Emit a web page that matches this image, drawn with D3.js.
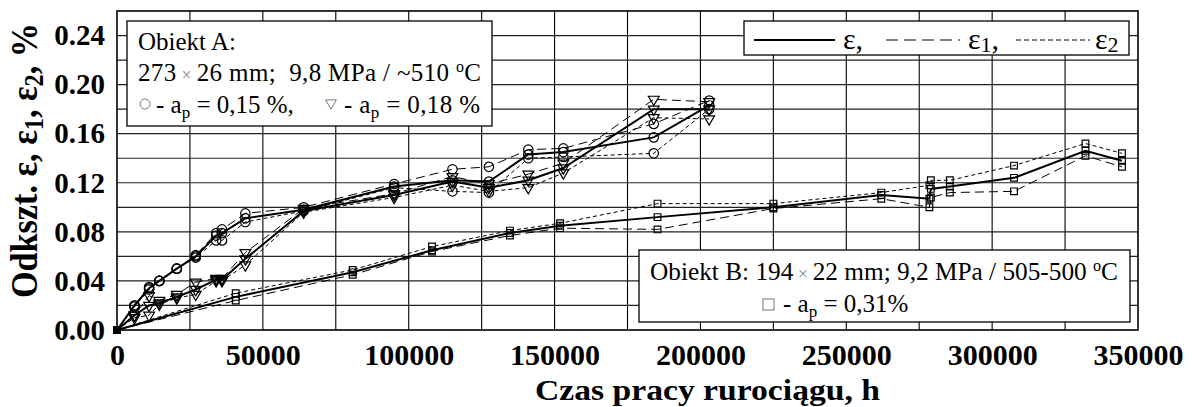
<!DOCTYPE html>
<html>
<head>
<meta charset="utf-8">
<script src="https://cdn.jsdelivr.net/npm/d3@7"></script>
<style>
  body { margin: 0; background: #fff; }
</style>
</head>
<body>
<div id="chart"></div>
<script>
// Object A: hours and strain readings (circles: a_p = 0.15 %, triangles: a_p = 0.18 %)
const hoursA = [0, 6000, 11000, 14500, 20500, 27000, 34000, 36000, 44000, 64000, 95000, 115000, 127500, 141000, 153000, 184000, 203000];
const circEps  = [0, 0.020, 0.034, 0.040, 0.050, 0.060, 0.077, 0.079, 0.091, 0.098, 0.117, 0.122, 0.121, 0.143, 0.145, 0.157, 0.183];
const circEps1 = [0, 0.020, 0.035, 0.040, 0.050, 0.061, 0.079, 0.082, 0.095, 0.100, 0.119, 0.131, 0.133, 0.147, 0.148, 0.168, 0.187];
const circEps2 = [0, 0.019, 0.033, 0.040, 0.050, 0.059, 0.073, 0.073, 0.088, 0.097, 0.116, 0.113, 0.112, 0.140, 0.141, 0.144, 0.180];
const triEps  = [0, 0.012, 0.020, 0.022, 0.027, 0.033, 0.041, 0.041, 0.058, 0.097, 0.110, 0.121, 0.116, 0.122, 0.132, 0.180, 0.180];
const triEps1 = [0, 0.012, 0.028, 0.024, 0.029, 0.039, 0.042, 0.042, 0.063, 0.099, 0.111, 0.125, 0.119, 0.127, 0.136, 0.188, 0.186];
const triEps2 = [0, 0.010, 0.012, 0.021, 0.026, 0.029, 0.040, 0.040, 0.053, 0.096, 0.108, 0.118, 0.113, 0.116, 0.128, 0.173, 0.172];

// Object B: squares, a_p = 0.31 %
const hoursB = [0, 40700, 80800, 108000, 134700, 151900, 185300, 225000, 262000, 278500, 279000, 285500, 307500, 332000, 344500];
const sqEps  = [0, 0.027, 0.047, 0.065, 0.079, 0.085, 0.092, 0.100, 0.110, 0.107, 0.115, 0.117, 0.124, 0.146, 0.138];
const sqEps1 = [0, 0.024, 0.045, 0.064, 0.077, 0.083, 0.082, 0.099, 0.107, 0.100, 0.108, 0.112, 0.113, 0.142, 0.133];
const sqEps2 = [0, 0.030, 0.049, 0.068, 0.081, 0.087, 0.103, 0.103, 0.112, 0.118, 0.122, 0.122, 0.134, 0.152, 0.144];

const xTicks = [0, 50000, 100000, 150000, 200000, 250000, 300000, 350000];
const yTicks = [0, 0.04, 0.08, 0.12, 0.16, 0.20, 0.24];

const FONT = 'Liberation Serif';

const width = 1196;
const height = 407;
const margin = { top: 11, left: 117, right: 58, bottom: 77 };
const innerW = width - margin.left - margin.right;
const innerH = height - margin.top - margin.bottom;

const svg = d3.select('#chart')
  .append('svg')
  .attr('width', width)
  .attr('height', height);

const x = d3.scaleLinear().domain([0, 350000]).range([margin.left, margin.left + innerW]);
const y = d3.scaleLinear().domain([0, 0.26]).range([margin.top + innerH, margin.top]);

// grid
const grid = svg.append('g');
grid.selectAll('line.v')
  .data(d3.range(25000, 350000, 25000))
  .enter().append('line')
  .attr('x1', d => x(d)).attr('x2', d => x(d))
  .attr('y1', y(0)).attr('y2', y(0.26))
  .attr('stroke', '#000').attr('stroke-width', 1.1);
grid.selectAll('line.h')
  .data(d3.range(1, 13).map(i => i * 0.02))
  .enter().append('line')
  .attr('x1', x(0)).attr('x2', x(350000))
  .attr('y1', d => y(d)).attr('y2', d => y(d))
  .attr('stroke', '#222').attr('stroke-width', 1.2);

svg.append('rect')
  .attr('x', x(0)).attr('y', y(0.26))
  .attr('width', innerW).attr('height', innerH)
  .attr('fill', 'none').attr('stroke', '#000').attr('stroke-width', 1.6);

// axes
const xAxis = svg.append('g')
  .attr('transform', `translate(0,${y(0)})`)
  .call(d3.axisBottom(x).tickValues(xTicks).tickSize(0).tickPadding(14).tickFormat(d3.format('d')));
xAxis.select('.domain').remove();
xAxis.selectAll('text')
  .style('font-family', FONT).style('font-weight', 'bold').style('font-size', '30px').attr('fill', '#000');

const yAxis = svg.append('g')
  .attr('transform', `translate(${x(0)},0)`)
  .call(d3.axisLeft(y).tickValues(yTicks).tickSize(0).tickPadding(12).tickFormat(d3.format('.2f')));
yAxis.select('.domain').remove();
yAxis.selectAll('text')
  .style('font-family', FONT).style('font-weight', 'bold').style('font-size', '29px').attr('fill', '#000');

svg.append('text')
  .attr('x', 535).attr('y', 400)
  .attr('textLength', 345).attr('lengthAdjust', 'spacingAndGlyphs')
  .style('font-family', FONT).style('font-weight', 'bold').style('font-size', '29px')
  .text('Czas pracy rurociągu, h');

const yTitle = svg.append('text')
  .attr('transform', 'translate(37,298) rotate(-90)')
  .attr('textLength', 275).attr('lengthAdjust', 'spacingAndGlyphs')
  .style('font-family', FONT).style('font-weight', 'bold').style('font-size', '38px');
yTitle.append('tspan').text('Odkszt. ε, ε');
yTitle.append('tspan').style('font-size', '27px').attr('dy', 6).text('1');
yTitle.append('tspan').attr('dy', -6).text(', ε');
yTitle.append('tspan').style('font-size', '27px').attr('dy', 6).text('2');
yTitle.append('tspan').attr('dy', -6).text(', %');

// series
const styles = {
  eps:  { width: 2, dash: null },
  eps1: { width: 1, dash: '9,5' },
  eps2: { width: 1, dash: '4,3' }
};

const series = [
  { hours: hoursA, vals: circEps,  style: 'eps',  marker: 'circle' },
  { hours: hoursA, vals: circEps1, style: 'eps1', marker: 'circle' },
  { hours: hoursA, vals: circEps2, style: 'eps2', marker: 'circle' },
  { hours: hoursA, vals: triEps,   style: 'eps',  marker: 'triangle' },
  { hours: hoursA, vals: triEps1,  style: 'eps1', marker: 'triangle' },
  { hours: hoursA, vals: triEps2,  style: 'eps2', marker: 'triangle' },
  { hours: hoursB, vals: sqEps,    style: 'eps',  marker: 'square' },
  { hours: hoursB, vals: sqEps1,   style: 'eps1', marker: 'square' },
  { hours: hoursB, vals: sqEps2,   style: 'eps2', marker: 'square' }
];

const line = d3.line()
  .x(d => x(d[0]))
  .y(d => y(d[1]));

const plot = svg.append('g');
series.forEach(s => {
  const pts = s.hours.map((h, i) => [h, s.vals[i]]);
  plot.append('path')
    .datum(pts)
    .attr('d', line)
    .attr('fill', 'none')
    .attr('stroke', '#000')
    .attr('stroke-width', styles[s.style].width)
    .attr('stroke-dasharray', styles[s.style].dash);
});

const symbols = {
  circle: d3.symbol().type(d3.symbolCircle).size(70),
  triangle: d3.symbol().type(d3.symbolTriangle).size(50),
  square: d3.symbol().type(d3.symbolSquare).size(45)
};

series.forEach(s => {
  const pts = s.hours.map((h, i) => [h, s.vals[i]]).filter(p => p[0] > 0);
  plot.selectAll(null)
    .data(pts)
    .enter().append('path')
    .attr('d', symbols[s.marker])
    .attr('transform', d => `translate(${x(d[0])},${y(d[1])})` + (s.marker === 'triangle' ? ' rotate(180)' : ''))
    .attr('fill', 'none')
    .attr('stroke', '#000')
    .attr('stroke-width', 1.2);
});

// filled origin marker
plot.append('rect')
  .attr('x', x(0) - 4).attr('y', y(0) - 4)
  .attr('width', 8).attr('height', 8)
  .attr('fill', '#000');

function legendText(g, px, py, size) {
  return g.append('text').attr('x', px).attr('y', py)
    .style('font-family', FONT).style('font-size', size + 'px');
}

// legend: Object A
const legA = svg.append('g');
legA.append('rect')
  .attr('x', 127).attr('y', 21).attr('width', 365).attr('height', 105)
  .attr('fill', '#fff').attr('stroke', '#000').attr('stroke-width', 1.3);
legendText(legA, 138, 50, 25).text('Obiekt A:');
const la2 = legendText(legA, 138, 81, 25)
  .attr('textLength', 343).attr('lengthAdjust', 'spacing');
la2.append('tspan').text('273');
la2.append('tspan').attr('fill', '#888').style('font-size', '18px').text(' × ');
la2.append('tspan').text('26 mm;\u00A0\u00A09,8 MPa / ~510 ');
la2.append('tspan').style('font-size', '16px').attr('dy', -9).text('o');
la2.append('tspan').attr('dy', 9).text('C');
legA.append('circle').attr('cx', 145).attr('cy', 104).attr('r', 5)
  .attr('fill', 'none').attr('stroke', '#777').attr('stroke-width', 1);
const la3 = legendText(legA, 156, 113, 25);
la3.append('tspan').text('- a');
la3.append('tspan').style('font-size', '17px').attr('dy', 5).text('p');
la3.append('tspan').attr('dy', -5).text(' = 0,15 %,');
legA.append('path')
  .attr('d', symbols.triangle)
  .attr('transform', 'translate(331,103) rotate(180)')
  .attr('fill', 'none').attr('stroke', '#777').attr('stroke-width', 1);
const la4 = legendText(legA, 344, 113, 25)
  .attr('textLength', 136).attr('lengthAdjust', 'spacing');
la4.append('tspan').text('- a');
la4.append('tspan').style('font-size', '17px').attr('dy', 5).text('p');
la4.append('tspan').attr('dy', -5).text(' = 0,18 %');

// legend: line styles
const legL = svg.append('g');
legL.append('rect')
  .attr('x', 744).attr('y', 21).attr('width', 385).attr('height', 34)
  .attr('fill', '#fff').attr('stroke', '#000').attr('stroke-width', 1.3);
const legItems = [
  { x1: 754, x2: 835, tx: 843, style: 'eps', sub: '', tail: ',' },
  { x1: 886, x2: 960, tx: 968, style: 'eps1', sub: '1', tail: ',' },
  { x1: 1016, x2: 1090, tx: 1095, style: 'eps2', sub: '2', tail: '' }
];
legItems.forEach(it => {
  legL.append('line')
    .attr('x1', it.x1).attr('x2', it.x2).attr('y1', 40).attr('y2', 40)
    .attr('stroke', '#000')
    .attr('stroke-width', it.style === 'eps' ? 2 : 1)
    .attr('stroke-dasharray', it.style === 'eps1' ? '12,6' : (it.style === 'eps2' ? '5,3' : null));
  const t = legendText(legL, it.tx, 49, 30);
  t.append('tspan').text('ε');
  if (it.sub) t.append('tspan').style('font-size', '22px').attr('dy', 3).text(it.sub);
  if (it.tail) t.append('tspan').attr('dy', it.sub ? -3 : 0).text(it.tail);
});

// legend: Object B
const legB = svg.append('g');
legB.append('rect')
  .attr('x', 639).attr('y', 250).attr('width', 491).attr('height', 72)
  .attr('fill', '#fff').attr('stroke', '#000').attr('stroke-width', 1.3);
const lb1 = legendText(legB, 650, 280, 25)
  .attr('textLength', 468).attr('lengthAdjust', 'spacingAndGlyphs');
lb1.append('tspan').text('Obiekt B: 194');
lb1.append('tspan').attr('fill', '#888').style('font-size', '18px').text(' × ');
lb1.append('tspan').text('22 mm; 9,2 MPa / 505-500 ');
lb1.append('tspan').style('font-size', '16px').attr('dy', -9).text('o');
lb1.append('tspan').attr('dy', 9).text('C');
legB.append('rect').attr('x', 763).attr('y', 299).attr('width', 11).attr('height', 11)
  .attr('fill', 'none').attr('stroke', '#777').attr('stroke-width', 1);
const lb2 = legendText(legB, 783, 312, 25);
lb2.append('tspan').text('- a');
lb2.append('tspan').style('font-size', '17px').attr('dy', 5).text('p');
lb2.append('tspan').attr('dy', -5).text(' = 0,31%');
</script>
</body>
</html>
